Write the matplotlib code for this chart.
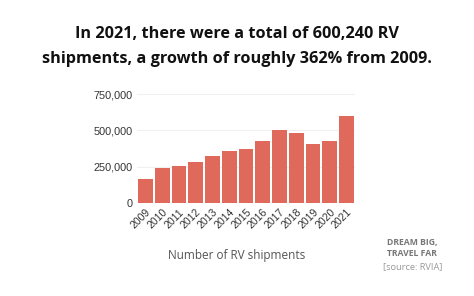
import numpy as np
import matplotlib.pyplot as plt

years = ['2009', '2010', '2011', '2012', '2013', '2014', '2015',
         '2016', '2017', '2018', '2019', '2020', '2021']
shipments = [165700, 242300, 252000, 285700, 321100, 356700, 374200,
             430700, 504600, 483700, 406100, 430400, 600240]

fig = plt.figure(figsize=(4.74, 2.96), dpi=100)
fig.patch.set_facecolor('white')

ax = fig.add_axes([0.289, 0.314, 0.46, 0.368])
x = np.arange(len(years))
ax.bar(x, shipments, width=0.88, color='#df6a5c', zorder=2)
ax.set_xlim(-0.5, len(years) - 0.5)
ax.set_ylim(0, 750000)
ax.set_yticks([0, 250000, 500000, 750000])
ax.set_yticklabels(['0', '250,000', '500,000', '750,000'],
                   fontsize=7.8, color='#333333', family='Liberation Sans')
ax.set_xticks(x)
ax.set_xticklabels(years, rotation=45, ha='right', rotation_mode='anchor',
                   fontsize=7.6, color='#333333', family='Liberation Sans')
ax.tick_params(length=0, pad=3)
ax.grid(axis='y', color='#f0f0f0', linewidth=0.8, zorder=0)
for s in ax.spines.values():
    s.set_visible(False)

fig.text(0.5, 1 - 46.5 / 296, 'In 2021, there were a total of 600,240 RV\nshipments, a growth of roughly 362% from 2009.',
         ha='center', va='center', fontsize=11.7, fontweight='bold',
         family='Open Sans', linespacing=1.68, color='#111111')

fig.text(237 / 474, 1 - 256 / 296, 'Number of RV shipments', ha='center', va='center',
         fontsize=8.5, family='Open Sans', color='#555555')

fig.text(412 / 474, 1 - 248 / 296, 'DREAM BIG,\nTRAVEL FAR', ha='center', va='center',
         fontsize=6.2, fontweight='bold', family='Open Sans', color='#777777',
         linespacing=1.3)
fig.text(413 / 474, 1 - 267 / 296, '[source: RVIA]', ha='center', va='center',
         fontsize=6.7, family='Open Sans', color='#999999')

fig.savefig('out.png', dpi=100)
